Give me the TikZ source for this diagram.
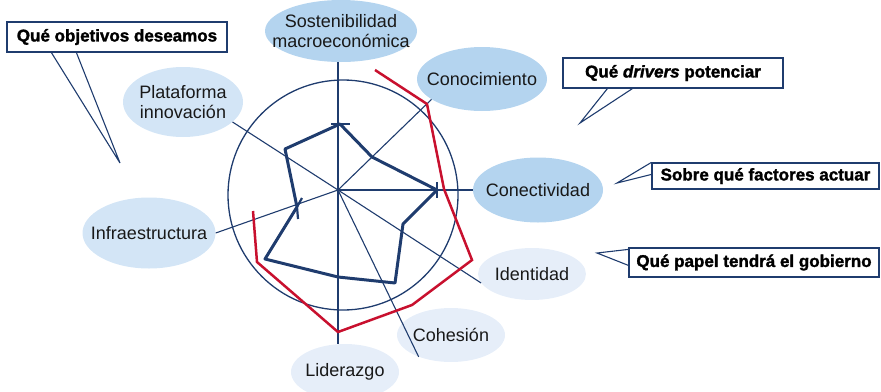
\documentclass[tikz,border=0pt]{standalone}
\usepackage{fontspec}
\setmainfont{Liberation Sans}
\newfontfamily\calloutsans{Liberation Sans}[UprightFont={* Bold}, ItalicFont={* Bold Italic}, UprightFeatures={FakeBold=1.6}, ItalicFeatures={FakeBold=1.6}]
\usetikzlibrary{shapes.geometric}
\definecolor{navy}{HTML}{1F3C6E}
\definecolor{redline}{HTML}{C8102E}
\definecolor{skydark}{HTML}{B4D4EF}
\definecolor{skymid}{HTML}{D3E5F6}
\definecolor{skylight}{HTML}{E6EEF9}
\newcommand{\factorfont}{\fontsize{18}{19.5}\selectfont}
\newcommand{\calloutfont}{\calloutsans\fontsize{17}{19}\selectfont}
\tikzstyle{factor}=[ellipse, inner sep=0pt, label distance=0pt, label={[font=\factorfont, align=center, text=black!90]center:#1}]
\tikzstyle{callout}=[rectangle, draw=navy, fill=white, line width=1.2pt, inner sep=0pt, font=\calloutfont]
\tikzstyle{spoke}=[draw=navy, line width=1.1pt]
\tikzstyle{profile}=[draw=navy, line width=3pt, line join=round]
\tikzstyle{errbar}=[draw=navy, line width=2.2pt]
\tikzstyle{target}=[draw=redline, line width=2.5pt]
\tikzstyle{pointer}=[draw=navy, line width=1.1pt]

\begin{document}
\begin{tikzpicture}[x=1pt, y=-1pt]
	\useasboundingbox (0,0) rectangle (881,391);
	\coordinate (c) at (338,190);

	% factores
	\node[factor={Sostenibilidad\\macroeconómica}, fill=skydark, minimum width=152, minimum height=62](sost) at (341,31){};
	\node[factor=Conocimiento, fill=skydark, minimum width=130, minimum height=64](cono) at (482,79){};
	\node[factor=Conectividad, fill=skydark, minimum width=130, minimum height=65](conect) at (538,190){};
	\node[factor=Identidad, fill=skylight, minimum width=108, minimum height=52](ident) at (532,274){};
	\node[factor=Cohesión, fill=skylight, minimum width=108, minimum height=54](cohes) at (451,335){};
	\node[factor=Liderazgo, fill=skylight, minimum width=108, minimum height=56](lider) at (345,372){};
	\node[factor=Infraestructura, fill=skymid, minimum width=133, minimum height=71](infra) at (149,233){};
	\node[factor={Plataforma\\innovación}, fill=skymid, minimum width=120, minimum height=70](plat) at (183,102){};

	% ejes
	\draw[navy, line width=1.3pt] (343,195) circle (115pt);
	\draw[spoke] (c) -- (c |- sost.south);
	\draw[spoke] (c) -- (cono.202);
	\draw[spoke] (c) -- (conect.west);
	\draw[spoke] (c) -- (ident.190);
	\draw[spoke] (c) -- (cohes.214);
	\draw[spoke] (c) -- (c |- lider.north);
	\draw[spoke] (c) -- (infra.east);
	\draw[spoke] (c) -- (plat.-22);

	% perfil actual
	\coordinate (b1) at (285,149);
	\coordinate (b2) at (340,124);
	\coordinate (b3) at (372,157);
	\coordinate (b4) at (437,190);
	\coordinate (b5) at (403,224);
	\coordinate (b6) at (395,283);
	\coordinate (b7) at (338,277);
	\coordinate (b8) at (265,259);
	\coordinate (b9) at (297,207);
	\draw[profile] (b9) -- (b1) -- (b2) -- (b3) -- (b4) -- (b5) -- (b6) -- (b7) -- (b8) -- (b9);
	\draw[errbar] (331,124) -- (350,124);
	\draw[errbar] (437,182) -- (437,198);
	\draw[errbar] (b9) -- (298,219);
	\draw[errbar] (b9) -- (302,198);

	% perfil deseado
	\draw[target] (375,70) -- (427,104) -- (444,189) -- (472,260) -- (412,305) -- (338,332) -- (257,262) -- (253,211);

	% preguntas
	\node[callout, minimum width=220, minimum height=30](objetivos) at (117,37){Qué objetivos deseamos};
	\node[callout, minimum width=220, minimum height=30](drivers) at (673,73){Qué \textit{drivers} potenciar};
	\node[callout, minimum width=227, minimum height=26](factores) at (765.5,176){Sobre qué factores actuar};
	\node[callout, minimum width=250, minimum height=29](gobierno) at (754,262.5){Qué papel tendrá el gobierno};

	\coordinate (tipobj) at (120,163);
	\coordinate (tipdri) at (580,123);
	\coordinate (tipfac) at (617,183);
	\coordinate (tipgob) at (597,253);
	\draw[pointer] ([xshift=45]objetivos.south west) -- (tipobj) -- ([xshift=70]objetivos.south west);
	\draw[pointer] ([xshift=45]drivers.south west) -- (tipdri) -- ([xshift=70]drivers.south west);
	\draw[pointer] (factores.north west) -- (tipfac) -- ([yshift=-12]factores.north west);
	\draw[pointer] ([yshift=-2]gobierno.north west) -- (tipgob) -- ([yshift=-18]gobierno.north west);
\end{tikzpicture}
\end{document}
